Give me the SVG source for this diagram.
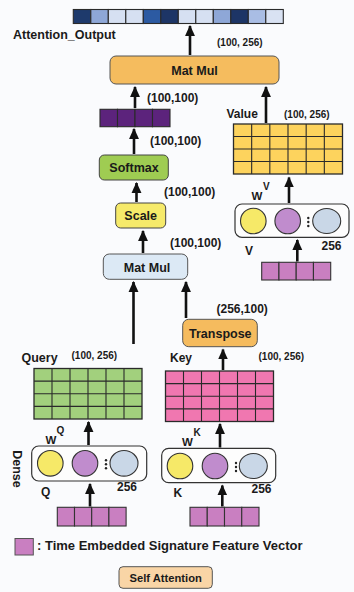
<svg xmlns="http://www.w3.org/2000/svg" width="354" height="592" viewBox="0 0 354 592">
<defs>
<marker id="ah" markerUnits="userSpaceOnUse" viewBox="0 0 10 10" refX="9" refY="5" markerWidth="11" markerHeight="11" orient="auto">
<path d="M0,0.5 L10,5 L0,9.5 z" fill="#111"/>
</marker>
</defs>
<style>
text{font-family:"Liberation Sans",Arial,sans-serif;font-weight:bold;fill:#1a1a1a}
.lbl{font-size:12.5px;text-anchor:middle}
.dim{font-size:10px}
.dim12{font-size:12px}
.arr{stroke:#111;stroke-width:2.6;fill:none;marker-end:url(#ah)}
.cell{stroke:#2a2a2a;stroke-width:1.1}
.gl{stroke:#2a2a2a;stroke-width:1.1}
.dense{fill:#fdfdfd;stroke:#333;stroke-width:1.2}
.cy{fill:#f6e968;stroke:#333;stroke-width:1.1}
.cp{fill:#c08ccd;stroke:#333;stroke-width:1.1}
.cg{fill:#c9d7e7;stroke:#333;stroke-width:1.1}
.vec{fill:#c97fc1;stroke:#333;stroke-width:1.1}
</style>
<rect width="354" height="592" fill="#fafbfd"/>

<g id="attention_output">
<rect x="73.3" y="9.5" width="17.5" height="14" class="cell" fill="#1e3a6c"/>
<rect x="90.8" y="9.5" width="17.5" height="14" class="cell" fill="#8ea7d7"/>
<rect x="108.3" y="9.5" width="17.5" height="14" class="cell" fill="#d6e0f2"/>
<rect x="125.8" y="9.5" width="17.5" height="14" class="cell" fill="#d6e0f2"/>
<rect x="143.3" y="9.5" width="17.5" height="14" class="cell" fill="#2c5aa2"/>
<rect x="160.8" y="9.5" width="17.5" height="14" class="cell" fill="#1d3566"/>
<rect x="178.3" y="9.5" width="17.5" height="14" class="cell" fill="#d6e0f2"/>
<rect x="195.8" y="9.5" width="17.5" height="14" class="cell" fill="#d6e0f2"/>
<rect x="213.3" y="9.5" width="17.5" height="14" class="cell" fill="#8ea7d7"/>
<rect x="230.8" y="9.5" width="17.5" height="14" class="cell" fill="#1d3566"/>
<rect x="248.3" y="9.5" width="17.5" height="14" class="cell" fill="#a9bde4"/>
<rect x="265.8" y="9.5" width="17.5" height="14" class="cell" fill="#d9e2f3"/>
<text x="13" y="38.5" style="font-size:12.5px">Attention_Output</text>
<text x="217" y="46" class="dim">(100, 256)</text>
</g>

<g id="matmul_top">
<rect x="110" y="56" width="169" height="28" rx="6" fill="#f5bc5e" stroke="#555" stroke-width="1"/>
<text x="194.5" y="74.5" class="lbl">Mat Mul</text>
</g>

<g id="softmax_output">
<rect x="100" y="109.3" width="17.5" height="17.4" class="cell" fill="#5c237c"/>
<rect x="117.5" y="109.3" width="17.5" height="17.4" class="cell" fill="#5c237c"/>
<rect x="135" y="109.3" width="17.5" height="17.4" class="cell" fill="#5c237c"/>
<rect x="152.5" y="109.3" width="17.5" height="17.4" class="cell" fill="#5c237c"/>
<text x="147" y="101.5" class="dim12">(100,100)</text>
</g>

<g id="softmax">
<rect x="99.3" y="155" width="69" height="25" rx="5" fill="#9fcc52" stroke="#444" stroke-width="1"/>
<text x="134" y="172" class="lbl">Softmax</text>
<text x="150" y="145" class="dim12">(100,100)</text>
</g>

<g id="scale">
<rect x="115.7" y="203" width="50" height="25" rx="5" fill="#f6ea6a" stroke="#444" stroke-width="1"/>
<text x="140.7" y="220" class="lbl">Scale</text>
<text x="164" y="196" class="dim12">(100,100)</text>
</g>

<g id="matmul_mid">
<rect x="103.3" y="254" width="84.4" height="25.3" rx="6" fill="#dce9f5" stroke="#555" stroke-width="1"/>
<text x="147" y="271.5" class="lbl">Mat Mul</text>
<text x="170" y="246.5" class="dim12">(100,100)</text>
</g>

<g id="transpose">
<rect x="182.7" y="319.3" width="74.6" height="27.4" rx="6" fill="#f5bb5e" stroke="#555" stroke-width="1"/>
<text x="220.3" y="337.5" class="lbl">Transpose</text>
<text x="216.5" y="313" class="dim12">(256,100)</text>
</g>

<g id="value">
<rect x="233.5" y="124" width="109" height="50" fill="#fdd35d" stroke="#2a2a2a" stroke-width="1.3"/>
<path class="gl" d="M251.67,124V174M269.83,124V174M288,124V174M306.17,124V174M324.33,124V174M233.5,136.5H342.5M233.5,149H342.5M233.5,161.5H342.5"/>
<text x="226.5" y="117.5" style="font-size:12px">Value</text>
<text x="284" y="117.5" class="dim">(100, 256)</text>
</g>

<g id="dense_v">
<rect x="235" y="204" width="114" height="33.3" rx="7" class="dense"/>
<circle cx="253.3" cy="221" r="12.8" class="cy"/>
<circle cx="287.7" cy="221" r="12.8" class="cp"/>
<circle cx="308.3" cy="218" r="1.2" fill="#222"/><circle cx="308.3" cy="222" r="1.2" fill="#222"/><circle cx="308.3" cy="226" r="1.2" fill="#222"/>
<ellipse cx="326.7" cy="221" rx="14" ry="12.5" class="cg"/>
<text x="251.5" y="199.5" style="font-size:11.5px">W</text>
<text x="263" y="189.5" style="font-size:10px">V</text>
<text x="245" y="254.5" style="font-size:12px">V</text>
<text x="321.5" y="249.5" style="font-size:12px">256</text>
</g>

<g id="input_v">
<rect x="261.7" y="262.3" width="17.25" height="17.7" class="vec"/>
<rect x="278.95" y="262.3" width="17.25" height="17.7" class="vec"/>
<rect x="296.2" y="262.3" width="17.25" height="17.7" class="vec"/>
<rect x="313.45" y="262.3" width="17.25" height="17.7" class="vec"/>
</g>

<g id="query">
<rect x="34" y="368.5" width="108" height="50.5" fill="#a2d07d" stroke="#2a2a2a" stroke-width="1.3"/>
<path class="gl" d="M52,368.5V419M70,368.5V419M88,368.5V419M106,368.5V419M124,368.5V419M34,381.1H142M34,393.75H142M34,406.4H142"/>
<text x="21.5" y="362" style="font-size:12.5px">Query</text>
<text x="71.5" y="358.5" class="dim">(100, 256)</text>
</g>

<g id="key">
<rect x="165.5" y="371" width="108" height="50.5" fill="#f077b0" stroke="#2a2a2a" stroke-width="1.3"/>
<path class="gl" d="M183.5,371V421.5M201.5,371V421.5M219.5,371V421.5M237.5,371V421.5M255.5,371V421.5M165.5,383.6H273.5M165.5,396.25H273.5M165.5,408.9H273.5"/>
<text x="170" y="362" style="font-size:12px">Key</text>
<text x="258.5" y="360" class="dim">(100, 256)</text>
</g>

<g id="dense_q">
<rect x="31.7" y="446" width="115" height="35" rx="7" class="dense"/>
<circle cx="50.3" cy="463.3" r="12.8" class="cy"/>
<circle cx="85" cy="463.3" r="12.8" class="cp"/>
<circle cx="106" cy="460.3" r="1.2" fill="#222"/><circle cx="106" cy="464.3" r="1.2" fill="#222"/><circle cx="106" cy="468.3" r="1.2" fill="#222"/>
<ellipse cx="124" cy="463.3" rx="14" ry="12.8" class="cg"/>
<text x="45.5" y="443.5" style="font-size:11.5px">W</text>
<text x="56.5" y="433.5" style="font-size:10px">Q</text>
<text x="41" y="495.5" style="font-size:12px">Q</text>
<text x="117" y="491" style="font-size:12px">256</text>
<text transform="translate(12.5,469) rotate(90)" style="font-size:12.5px;text-anchor:middle">Dense</text>
</g>

<g id="input_q">
<rect x="57.3" y="507.3" width="17.2" height="18.7" class="vec"/>
<rect x="74.5" y="507.3" width="17.2" height="18.7" class="vec"/>
<rect x="91.7" y="507.3" width="17.2" height="18.7" class="vec"/>
<rect x="108.9" y="507.3" width="17.2" height="18.7" class="vec"/>
</g>

<g id="dense_k">
<rect x="161.7" y="448.3" width="114" height="34.4" rx="7" class="dense"/>
<circle cx="180" cy="466" r="12.8" class="cy"/>
<circle cx="215" cy="466" r="12.8" class="cp"/>
<circle cx="236" cy="463" r="1.2" fill="#222"/><circle cx="236" cy="467" r="1.2" fill="#222"/><circle cx="236" cy="471" r="1.2" fill="#222"/>
<ellipse cx="253.3" cy="466" rx="14" ry="12.5" class="cg"/>
<text x="182" y="445.5" style="font-size:11.5px">W</text>
<text x="193.5" y="436" style="font-size:10px">K</text>
<text x="173.5" y="497" style="font-size:12px">K</text>
<text x="251.5" y="493" style="font-size:12px">256</text>
</g>

<g id="input_k">
<rect x="190" y="507.3" width="17.25" height="18.7" class="vec"/>
<rect x="207.25" y="507.3" width="17.25" height="18.7" class="vec"/>
<rect x="224.5" y="507.3" width="17.25" height="18.7" class="vec"/>
<rect x="241.75" y="507.3" width="17.25" height="18.7" class="vec"/>
</g>

<g id="legend">
<rect x="15" y="538.5" width="18.3" height="16.5" fill="#c97fc1" stroke="#555" stroke-width="1"/>
<text x="37" y="549.5" style="font-size:13px">: Time Embedded Signature Feature Vector</text>
</g>

<g id="self_attention">
<rect x="119" y="566.7" width="93.3" height="21.6" rx="4" fill="#f9d5a6" stroke="#555" stroke-width="1"/>
<text x="165.7" y="581.5" style="font-size:11.2px;text-anchor:middle">Self Attention</text>
</g>

<g id="connectors">
<line class="arr" x1="190" y1="55" x2="190" y2="26"/>
<line class="arr" x1="135" y1="108" x2="135" y2="87"/>
<line class="arr" x1="266" y1="123" x2="266" y2="87"/>
<line class="arr" x1="134" y1="154" x2="134" y2="129"/>
<line class="arr" x1="136.5" y1="202" x2="136.5" y2="183"/>
<line class="arr" x1="143" y1="253" x2="143" y2="231"/>
<line class="arr" x1="133.5" y1="344" x2="133.5" y2="282"/>
<line class="arr" x1="186" y1="318" x2="186" y2="282"/>
<line class="arr" x1="223" y1="370" x2="223" y2="349.5"/>
<line class="arr" x1="88.5" y1="445" x2="88.5" y2="422"/>
<line class="arr" x1="90" y1="506.5" x2="90" y2="484"/>
<line class="arr" x1="220" y1="447.5" x2="220" y2="424"/>
<line class="arr" x1="222.3" y1="506.5" x2="222.3" y2="485.5"/>
<line class="arr" x1="289" y1="203" x2="289" y2="177.5"/>
<line class="arr" x1="297.3" y1="261.5" x2="297.3" y2="240"/>
</g>
</svg>
